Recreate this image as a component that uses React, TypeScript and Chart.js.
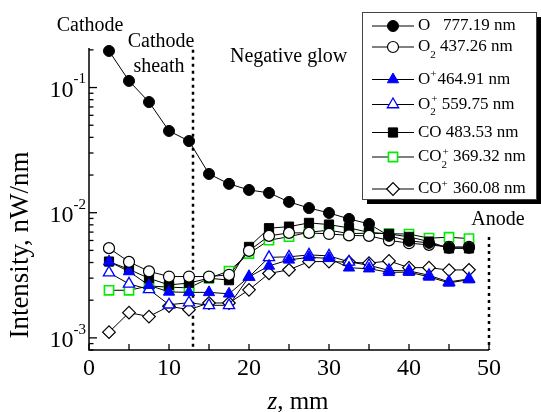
import React, { useEffect, useRef } from 'react';
import { Chart, registerables } from 'chart.js';
import { drawPoint } from 'chart.js/helpers';

Chart.register(...registerables);

// ---------------- data ----------------
const zPositions = [2.5, 5, 7.5, 10, 12.5, 15, 17.5, 20, 22.5, 25, 27.5, 30, 32.5, 35, 37.5, 40, 42.5, 45, 47.5];

const oAtom777 = [0.196, 0.113, 0.0766, 0.045, 0.0374, 0.0204, 0.017, 0.0152, 0.0144, 0.0122, 0.0109, 0.00996, 0.00892, 0.00814, 0.00653, 0.00596, 0.00574, 0.00524, 0.00524];
const o2Mol437 = [0.00521, 0.00405, 0.0034, 0.00309, 0.00309, 0.00309, 0.00319, 0.00496, 0.00653, 0.0069, 0.0069, 0.00677, 0.00659, 0.00653, 0.00601, 0.00571, 0.00553, 0.00533, 0.00533];
const oIon464 = [0.00407, 0.00339, 0.00263, 0.00233, 0.00231, 0.00231, 0.00225, 0.00307, 0.00376, 0.0042, 0.0044, 0.00432, 0.00363, 0.00357, 0.00334, 0.00335, 0.00307, 0.00275, 0.00292];
const o2Ion559 = [0.00332, 0.0027, 0.00244, 0.00184, 0.00191, 0.00182, 0.00182, 0.00307, 0.0044, 0.00444, 0.0046, 0.00452, 0.00405, 0.0038, 0.00346, 0.00343, 0.00316, 0.0028, 0.00296];
const coMol483 = [0.00407, 0.00353, 0.00299, 0.00265, 0.00274, 0.003, 0.00289, 0.00533, 0.00752, 0.00774, 0.00829, 0.00804, 0.00756, 0.00697, 0.00677, 0.00641, 0.00588, 0.00519, 0.00519];
const co2Ion369 = [0.0024, 0.0024, 0.0026, 0.00254, 0.00251, 0.003, 0.00342, 0.00472, 0.00603, 0.00643, 0.00699, 0.00725, 0.00681, 0.00686, 0.0068, 0.00675, 0.00626, 0.00637, 0.00621];
const coIon360 = [0.00111, 0.00159, 0.00148, 0.00179, 0.00168, 0.0019, 0.0019, 0.00242, 0.00327, 0.0035, 0.00407, 0.00407, 0.00403, 0.00395, 0.00412, 0.00364, 0.00364, 0.00348, 0.0035];

const xTickValues = [0, 5, 10, 15, 20, 25, 30, 35, 40, 45, 50];
const xTickLabels = [0, 10, 20, 30, 40, 50];
const yDecades = [1e-3, 1e-2, 1e-1];
const yDecadeExponents = ['-3', '-2', '-1'];

const xAxisMin = 0;
const xAxisMax = 50;
const yAxisMin = 8e-4;
const yAxisMax = 0.207;

const cathodeSheathZ = 13;
const anodeZ = 50;

// legend labels: [text, kind]  kind: n = normal, b = subscript, p = superscript
const legendLabels: [string, string][][] = [
  [['O', 'n'], ['   777.19 nm', 'n']],
  [['O', 'n'], ['2', 'b'], [' 437.26 nm', 'n']],
  [['O', 'n'], ['+', 'p'], ['464.91 nm', 'n']],
  [['O', 'n'], ['2', 'b'], ['+', 'p'], [' 559.75 nm', 'n']],
  [['CO 483.53 nm', 'n']],
  [['CO', 'n'], ['2', 'b'], ['+', 'p'], [' 369.32 nm', 'n']],
  [['CO', 'n'], ['+', 'p'], [' 360.08 nm', 'n']],
];

const FONT = "'Liberation Serif', 'Times New Roman', serif";

type SeriesStyle = { data: number[]; style: string; radius: number; fill: string; stroke: string; bw: number };
const series: SeriesStyle[] = [
  { data: oAtom777, style: 'circle', radius: 5.5, fill: '#000000', stroke: '#000000', bw: 1 },
  { data: o2Mol437, style: 'circle', radius: 5.5, fill: '#ffffff', stroke: '#000000', bw: 1.2 },
  { data: oIon464, style: 'triangle', radius: 6.5, fill: '#0000ff', stroke: '#0000ff', bw: 1 },
  { data: o2Ion559, style: 'triangle', radius: 6.5, fill: '#ffffff', stroke: '#0000ff', bw: 1.3 },
  { data: coMol483, style: 'rect', radius: 6.5, fill: '#000000', stroke: '#000000', bw: 1 },
  { data: co2Ion369, style: 'rect', radius: 6.5, fill: '#ffffff', stroke: '#00ee00', bw: 1.6 },
  { data: coIon360, style: 'rectRot', radius: 6.3, fill: '#ffffff', stroke: '#000000', bw: 1.2 },
];

function drawRich(ctx: CanvasRenderingContext2D, segs: [string, string][], x0: number, y: number) {
  let x = x0;
  let i = 0;
  while (i < segs.length) {
    const [t, k] = segs[i];
    if (k === 'n') {
      ctx.font = `17px ${FONT}`;
      ctx.fillText(t, x, y);
      x += ctx.measureText(t).width;
      i++;
    } else if (k === 'b') {
      ctx.font = `11px ${FONT}`;
      ctx.fillText(t, x, y + 8);
      let w = ctx.measureText(t).width;
      if (i + 1 < segs.length && segs[i + 1][1] === 'p') {
        const tp = segs[i + 1][0];
        ctx.fillText(tp, x + 1, y - 5);
        w = Math.max(w, ctx.measureText(tp).width + 1);
        i++;
      }
      x += w;
      i++;
    } else {
      ctx.font = `11px ${FONT}`;
      ctx.fillText(t, x, y - 5);
      x += ctx.measureText(t).width + 1;
      i++;
    }
  }
}

const decorPlugin = {
  id: 'decor',
  beforeDatasetsDraw(chart: any) {
    const { ctx, chartArea, scales } = chart;
    const xs = scales.x;
    const ys = scales.y;
    ctx.save();
    ctx.strokeStyle = '#000';
    ctx.lineWidth = 2.5;
    ctx.setLineDash([3, 4]);
    const cx = xs.getPixelForValue(cathodeSheathZ);
    ctx.beginPath();
    ctx.moveTo(cx, ys.getPixelForValue(0.2));
    ctx.lineTo(cx, chartArea.bottom);
    ctx.stroke();
    const ax = xs.getPixelForValue(anodeZ);
    ctx.beginPath();
    ctx.moveTo(ax, ys.getPixelForValue(0.0064));
    ctx.lineTo(ax, chartArea.bottom);
    ctx.stroke();
    ctx.restore();
  },
  afterDraw(chart: any) {
    const { ctx, chartArea, scales } = chart;
    const xs = scales.x;
    const ys = scales.y;
    const L = chartArea.left;
    const B = chartArea.bottom;
    ctx.save();
    ctx.strokeStyle = '#000';
    ctx.fillStyle = '#000';
    ctx.lineWidth = 1.5;
    ctx.beginPath();
    ctx.moveTo(L, chartArea.top);
    ctx.lineTo(L, B);
    ctx.lineTo(chartArea.right, B);
    ctx.stroke();

    // x ticks (inward)
    ctx.lineWidth = 1.3;
    xTickValues.forEach((v) => {
      const px = xs.getPixelForValue(v);
      ctx.beginPath();
      ctx.moveTo(px, B);
      ctx.lineTo(px, B - 6);
      ctx.stroke();
    });
    // y ticks (inward) on log scale
    for (let e = -4; e <= 0; e++) {
      for (let m = 1; m <= 9; m++) {
        const v = m * Math.pow(10, e);
        if (v < yAxisMin || v > yAxisMax) continue;
        const py = ys.getPixelForValue(v);
        ctx.beginPath();
        ctx.moveTo(L, py);
        ctx.lineTo(L + (m === 1 ? 8 : 4.5), py);
        ctx.stroke();
      }
    }

    // x labels
    ctx.font = `24px ${FONT}`;
    ctx.textAlign = 'center';
    ctx.textBaseline = 'middle';
    xTickLabels.forEach((v) => {
      ctx.fillText(String(v), xs.getPixelForValue(v), 369);
    });

    // y labels 10^n
    yDecades.forEach((v, i) => {
      const py = ys.getPixelForValue(v);
      ctx.font = `15px ${FONT}`;
      ctx.textAlign = 'right';
      const supW = ctx.measureText(yDecadeExponents[i]).width;
      const right = L - 3;
      ctx.fillText(yDecadeExponents[i], right, py - 8);
      ctx.font = `24px ${FONT}`;
      ctx.fillText('10', right - supW, py + 3);
    });

    // axis titles
    ctx.textBaseline = 'alphabetic';
    ctx.textAlign = 'left';
    ctx.font = `italic 25px ${FONT}`;
    const zW = ctx.measureText('z').width;
    ctx.font = `25px ${FONT}`;
    const restW = ctx.measureText(', mm').width;
    const startX = 298 - (zW + restW) / 2;
    ctx.font = `italic 25px ${FONT}`;
    ctx.fillText('z', startX, 409);
    ctx.font = `25px ${FONT}`;
    ctx.fillText(', mm', startX + zW, 409);

    ctx.save();
    ctx.translate(21, 245);
    ctx.rotate(-Math.PI / 2);
    ctx.textAlign = 'center';
    ctx.textBaseline = 'middle';
    ctx.font = `27px ${FONT}`;
    ctx.fillText('Intensity, nW/nm', 0, 0);
    ctx.restore();

    // annotations
    ctx.font = `20px ${FONT}`;
    ctx.textAlign = 'center';
    ctx.textBaseline = 'middle';
    ctx.fillText('Cathode', 90, 26);
    const sx = xs.getPixelForValue(cathodeSheathZ);
    ctx.fillText('Cathode', sx - 32, 42);
    ctx.fillText('sheath', sx - 34, 67);
    ctx.textAlign = 'left';
    ctx.fillText('Negative glow', 230, 57);
    ctx.textAlign = 'center';
    ctx.fillText('Anode', xs.getPixelForValue(anodeZ) + 9, 220);

    // legend box
    const bx = 362, by = 12, bw = 174, bh = 187;
    ctx.fillStyle = '#000';
    ctx.fillRect(bx + 5, by + 5, bw, bh);
    ctx.fillStyle = '#fff';
    ctx.fillRect(bx, by, bw, bh);
    ctx.strokeStyle = '#444';
    ctx.lineWidth = 1;
    ctx.strokeRect(bx + 0.5, by + 0.5, bw, bh);

    const rowsY = [26, 47, 79.5, 104.5, 132.5, 157, 189];
    chart.data.datasets.forEach((ds: any, i: number) => {
      const y = rowsY[i];
      ctx.strokeStyle = '#000';
      ctx.lineWidth = 1;
      ctx.beginPath();
      ctx.moveTo(372, y);
      ctx.lineTo(414, y);
      ctx.stroke();
      ctx.fillStyle = ds.pointBackgroundColor;
      ctx.strokeStyle = ds.pointBorderColor;
      ctx.lineWidth = ds.pointBorderWidth;
      drawPoint(ctx, { pointStyle: ds.pointStyle, radius: ds.pointRadius, rotation: 0, borderWidth: ds.pointBorderWidth }, 393, y);
      ctx.fillStyle = '#000';
      ctx.textAlign = 'left';
      ctx.textBaseline = 'middle';
      drawRich(ctx, legendLabels[i], 418, y);
    });
    ctx.restore();
  },
};

export default function App() {
  const ref = useRef<HTMLCanvasElement | null>(null);
  useEffect(() => {
    if (!ref.current) return;
    const datasets = series.map((s) => ({
      data: zPositions.map((z, i) => ({ x: z, y: s.data[i] })),
      borderColor: '#000000',
      borderWidth: 1,
      pointStyle: s.style,
      pointRadius: s.radius,
      pointBackgroundColor: s.fill,
      pointBorderColor: s.stroke,
      pointBorderWidth: s.bw,
      tension: 0,
      clip: false as any,
      showLine: true,
      fill: false,
    }));
    const chart = new Chart(ref.current, {
      type: 'line',
      data: { datasets },
      options: {
        responsive: false,
        animation: false,
        events: [],
        layout: { padding: { top: 48, right: 52, left: 0, bottom: 0 } },
        plugins: { legend: { display: false }, tooltip: { enabled: false }, title: { display: false } },
        scales: {
          x: {
            type: 'linear',
            min: xAxisMin,
            max: xAxisMax,
            ticks: { display: false },
            grid: { display: false, drawTicks: false },
            border: { display: false },
            afterFit: (s: any) => { s.height = 62; },
          },
          y: {
            type: 'logarithmic',
            min: yAxisMin,
            max: yAxisMax,
            ticks: { display: false },
            grid: { display: false, drawTicks: false },
            border: { display: false },
            afterFit: (s: any) => { s.width = 89; },
          },
        },
      } as any,
      plugins: [decorPlugin],
    });
    return () => chart.destroy();
  }, []);
  return (
    <div style={{ position: 'absolute', left: 0, top: 0, width: 541, height: 412, background: '#fff' }}>
      <canvas ref={ref} width={541} height={412} style={{ display: 'block' }} />
    </div>
  );
}
